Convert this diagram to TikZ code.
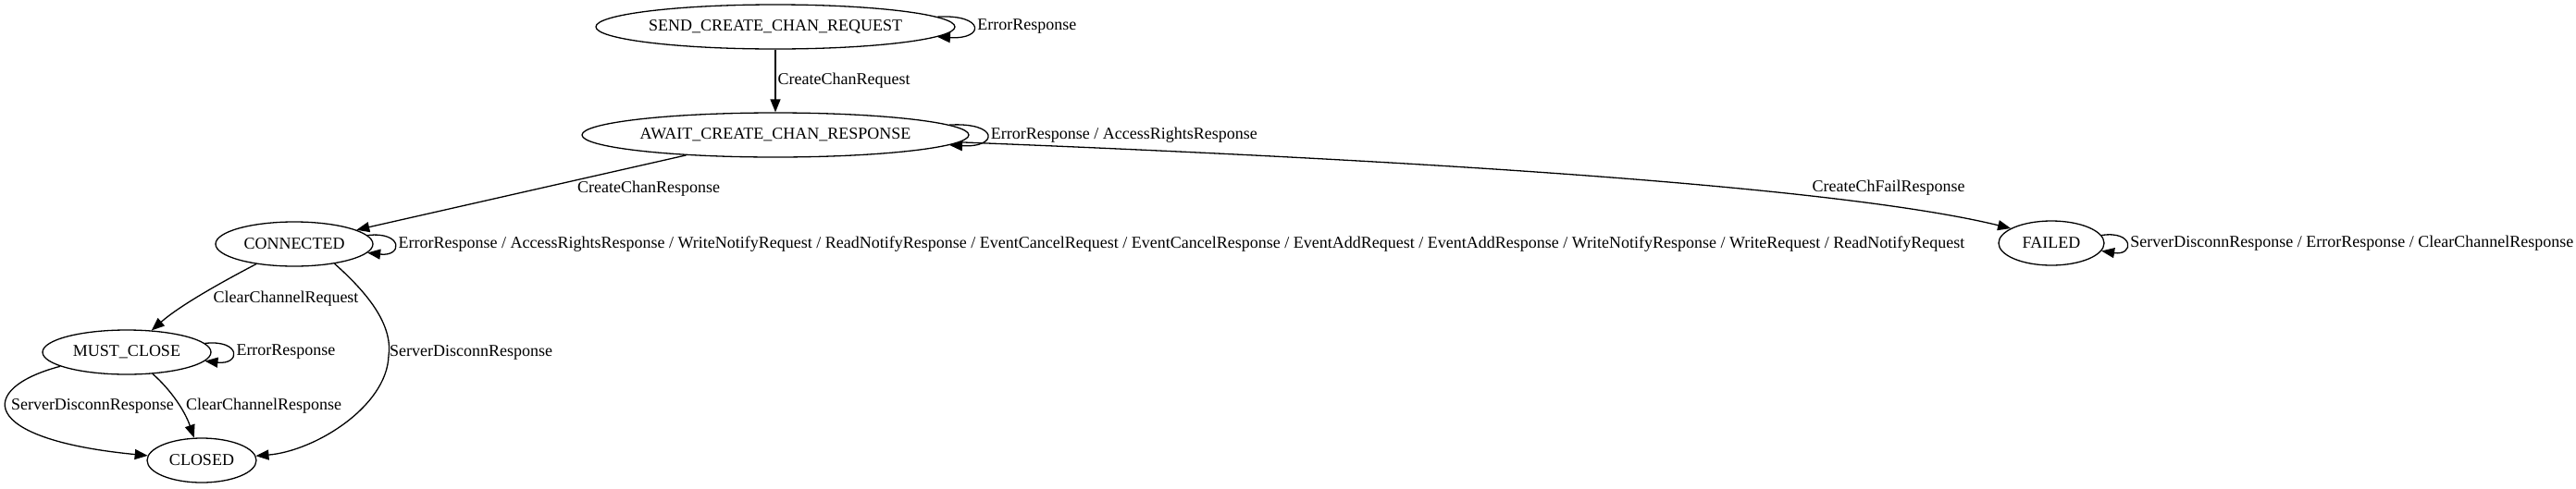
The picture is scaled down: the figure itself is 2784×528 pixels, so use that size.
\documentclass[tikz,border=0pt]{standalone}
\usepackage{fontspec}
\setmainfont{Liberation Serif}
\usetikzlibrary{arrows.meta,shapes.geometric}
\newcommand\selfloop[2]{\draw[tr] (#1) .. controls ([shift={(32,-14)}]#1.east) and ([shift={(32,14)}]#1.east) .. (#1) node[looplbl, pos=0.5]{#2};}
\begin{document}
\begin{tikzpicture}[x=1pt,y=-1pt,
  font=\fontsize{18}{20}\selectfont,
  state/.style={draw, ellipse, line width=1.3pt, inner sep=0pt, minimum height=48pt},
  tr/.style={line width=1.3pt, -{Triangle[length=14pt,width=11pt]}},
  lbl/.style={inner sep=0pt},
  looplbl/.style={inner sep=0pt, anchor=west, xshift=4pt}]
\useasboundingbox (0,0) rectangle (2784,528);

\node[state, minimum width=388pt] (send) at (838,29) {SEND\_CREATE\_CHAN\_REQUEST};
\node[state, minimum width=418pt] (await) at (838,146) {AWAIT\_CREATE\_CHAN\_RESPONSE};
\node[state, minimum width=170pt] (conn) at (318,264) {CONNECTED};
\node[state, minimum width=114pt] (failed) at (2217,263) {FAILED};
\node[state, minimum width=182pt] (must) at (137,381) {MUST\_CLOSE};
\node[state, minimum width=118pt] (closed) at (218,498) {CLOSED};

\draw[tr] (send) -- (await) node[lbl, pos=0.5, anchor=west, xshift=2pt] (l1) {CreateChanRequest};
\draw[tr] (await) -- (conn);
\node[lbl] (l2) at (701,204) {CreateChanResponse};
\draw[tr] (await) .. controls (1500,172) and (1980,200) .. (failed.160);
\node[lbl] (l3) at (2041,203) {CreateChFailResponse};
\draw[tr] (conn) .. controls (240,305) and (195,330) .. (must);
\node[lbl] (l4) at (309,323) {ClearChannelRequest};
\coordinate (c1) at (420,385);
\draw[tr] (conn.-26) .. controls (395,315) and (425,350) .. (c1) .. controls (418,440) and (340,488) .. (closed);
\node[lbl, anchor=west] (l5) at (421,381) {ServerDisconnResponse};
\draw[tr] (must.-40) .. controls (185,422) and (200,445) .. (closed);
\node[lbl] (l6) at (285,439) {ClearChannelResponse};
\draw[tr] (must.192) .. controls (-25,420) and (-25,475) .. (closed.175);
\node[lbl] (l7) at (100,439) {ServerDisconnResponse};

\selfloop{send}{ErrorResponse}
\selfloop{await}{ErrorResponse / AccessRightsResponse}
\selfloop{conn}{ErrorResponse / AccessRightsResponse / WriteNotifyRequest / ReadNotifyResponse / EventCancelRequest / EventCancelResponse / EventAddRequest / EventAddResponse / WriteNotifyResponse / WriteRequest / ReadNotifyRequest}
\selfloop{must}{ErrorResponse}
\selfloop{failed}{ServerDisconnResponse / ErrorResponse / ClearChannelResponse}
\end{tikzpicture}
\end{document}
